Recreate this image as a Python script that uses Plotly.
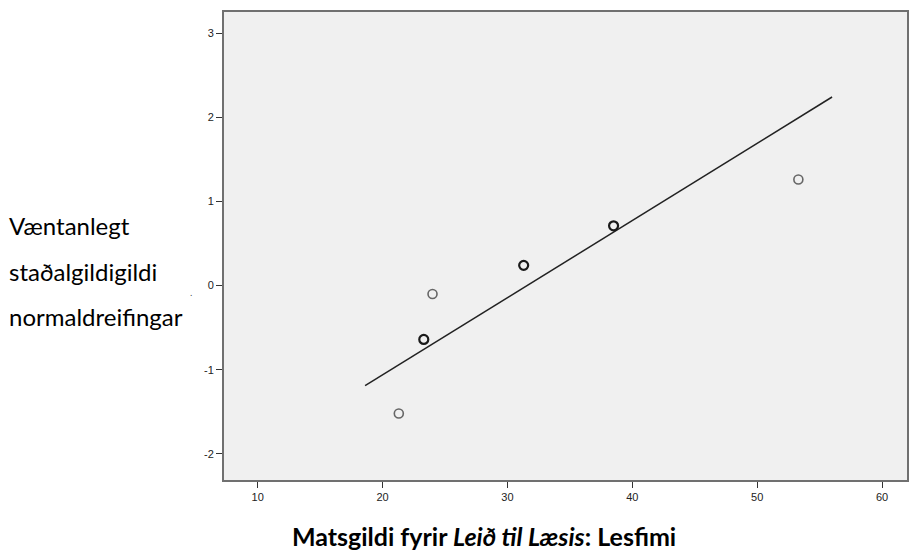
import plotly.graph_objects as go

# Observed points (gray = single, dark = overlapping/duplicate)
obs_x = [21.3, 24.0, 53.3]
obs_y = [-1.52, -0.10, 1.26]
dup_x = [23.3, 31.3, 38.5]
dup_y = [-0.64, 0.24, 0.71]

# Reference normal line endpoints
line_x = [18.6, 56.0]
line_y = [-1.19, 2.24]

x_ticks = [10, 20, 30, 40, 50, 60]
y_ticks = [-2, -1, 0, 1, 2, 3]
y_tick_text = ["-2", "-1", "0", "1", "2", "3"]

y_title_lines = ["Væntanlegt", "staðalgildigildi", "normaldreifingar"]
x_title = "<b>Matsgildi fyrir <i>Leið til Læsis</i>: Lesfimi</b>"

fig = go.Figure()
fig.add_trace(go.Scatter(x=line_x, y=line_y, mode="lines",
                         line=dict(color="#222222", width=1.5), showlegend=False))
fig.add_trace(go.Scatter(x=obs_x, y=obs_y, mode="markers",
                         marker=dict(symbol="circle-open", size=9, color="#666666",
                                     line=dict(width=1.6, color="#666666")),
                         showlegend=False))
fig.add_trace(go.Scatter(x=dup_x, y=dup_y, mode="markers",
                         marker=dict(symbol="circle-open", size=9, color="#1a1a1a",
                                     line=dict(width=2.2, color="#1a1a1a")),
                         showlegend=False))

axis_common = dict(showgrid=False, zeroline=False, showline=True, linecolor="#707070",
                   linewidth=2, mirror=True, ticks="outside", ticklen=6, tickwidth=1,
                   tickcolor="#333333",
                   tickfont=dict(family="Liberation Sans, Arial", size=11, color="#222222"))

fig.update_xaxes(range=[7.3, 62], tickvals=x_ticks, **axis_common)
fig.update_yaxes(range=[-2.31, 3.25], tickvals=y_ticks, ticktext=y_tick_text, **axis_common)

annotations = []
for i, t in enumerate(y_title_lines):
    annotations.append(dict(text=t, xref="paper", yref="paper", x=-218/685, xanchor="left",
                            y=1 - (226 + 45 * i - 12) / 468, yanchor="middle",
                            showarrow=False,
                            font=dict(family="Lato, Carlito, Calibri, sans-serif", size=24,
                                      color="#000000")))
annotations.append(dict(text=x_title, xref="paper", yref="paper",
                        x=(485 - 224) / 685, xanchor="center",
                        y=-(536 - 480) / 468, yanchor="middle", showarrow=False,
                        font=dict(family="Lato, Carlito, Calibri, sans-serif", size=25,
                                  color="#000000")))
annotations.append(dict(text=".", xref="paper", yref="paper", x=(191 - 224) / 685,
                        xanchor="center", y=1 - (292 - 12) / 468, yanchor="middle",
                        showarrow=False, font=dict(size=9, color="#333333")))

fig.update_layout(width=912, height=553, margin=dict(l=224, r=3, t=12, b=73),
                  paper_bgcolor="white", plot_bgcolor="#F0F0F0",
                  annotations=annotations)

fig.write_html("out.html")
